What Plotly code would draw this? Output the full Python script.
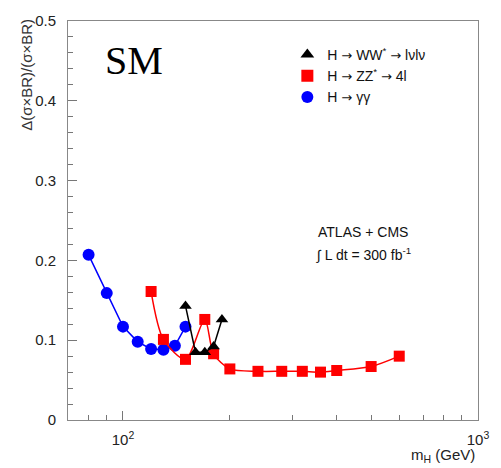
import plotly.graph_objects as go

# Higgs mass points (GeV) and relative uncertainty on sigma x BR per channel
mh_ww = [150, 160, 170, 180, 190]
err_ww = [0.143, 0.085, 0.085, 0.092, 0.126]

mh_zz = [120, 130, 150, 170, 180, 200, 240, 280, 320, 360, 400, 500, 600]
err_zz = [0.161, 0.101, 0.076, 0.126, 0.083, 0.064, 0.061, 0.061, 0.061, 0.060, 0.062, 0.067, 0.080]

mh_gg = [80, 90, 100, 110, 120, 130, 140, 150]
err_gg = [0.207, 0.159, 0.117, 0.098, 0.089, 0.088, 0.093, 0.117]

ARROW = "<span style='font-family:DejaVu Sans;font-size:13px'>\u2192</span>"
labels = [
    f"H {ARROW} WW<sup>*</sup> {ARROW} l\u03bdl\u03bd",
    f"H {ARROW} ZZ<sup>*</sup> {ARROW} 4l",
    f"H {ARROW} \u03b3\u03b3",
]

FONT = "Liberation Sans, Arial, Helvetica, sans-serif"

fig = go.Figure()

# data curves
fig.add_trace(go.Scatter(x=mh_gg, y=err_gg, mode="lines+markers", showlegend=False,
                         line=dict(color="#0000ff", width=1.5),
                         marker=dict(symbol="circle", size=12, color="#0000ff")))
fig.add_trace(go.Scatter(x=mh_zz, y=err_zz, mode="lines+markers", showlegend=False,
                         line=dict(color="#ff0000", width=1.5, shape="spline", smoothing=0.8),
                         marker=dict(symbol="square", size=11, color="#ff0000")))
fig.add_trace(go.Scatter(x=mh_ww, y=err_ww, mode="lines+markers", showlegend=False,
                         line=dict(color="#000000", width=1.5),
                         marker=dict(symbol="triangle-up", size=11, color="#000000")))

# marker-only legend entries
for name, sym, col in [(labels[0], "triangle-up", "#000000"),
                       (labels[1], "square", "#ff0000"),
                       (labels[2], "circle", "#0000ff")]:
    fig.add_trace(go.Scatter(x=[None], y=[None], mode="markers", name=name,
                             marker=dict(symbol=sym, size=12, color=col)))

minor_x = [70, 80, 90, 200, 300, 400, 500, 600, 700, 800, 900]

fig.update_layout(
    width=501, height=468,
    margin=dict(l=68, r=15, t=17, b=48),
    paper_bgcolor="white", plot_bgcolor="white",
    font=dict(family=FONT, size=14, color="#222"),
    legend=dict(x=0.535, y=0.955, xanchor="left", yanchor="top",
                bgcolor="rgba(0,0,0,0)", font=dict(size=14, color="#111"),
                itemwidth=30, tracegroupgap=0),
    xaxis=dict(type="log", range=[1.8451, 3.0],
               tickvals=[100, 1000], ticktext=["10<sup>2</sup>", "10<sup>3</sup>"],
               ticks="inside", ticklen=9, tickcolor="#777", tickwidth=1,
               minor=dict(tickvals=minor_x, ticks="inside", ticklen=5, tickcolor="#777"),
               showgrid=False, zeroline=False,
               showline=True, linecolor="#888", linewidth=1, mirror=True,
               tickfont=dict(size=15, color="#222"), ticklabelstandoff=6),
    yaxis=dict(range=[0, 0.5], tickvals=[0, 0.1, 0.2, 0.3, 0.4, 0.5],
               ticktext=["0", "0.1", "0.2", "0.3", "0.4", "0.5"],
               ticks="inside", ticklen=9, tickcolor="#777", tickwidth=1,
               minor=dict(dtick=0.02, ticks="inside", ticklen=5, tickcolor="#777"),
               showgrid=False, zeroline=False,
               showline=True, linecolor="#888", linewidth=1, mirror=True,
               tickfont=dict(size=15, color="#222"), ticklabelstandoff=8),
    annotations=[
        dict(text="SM", xref="paper", yref="paper", x=0.16, y=0.9,
             xanchor="center", yanchor="middle", showarrow=False,
             font=dict(family="Liberation Serif, Times New Roman, serif", size=40, color="#000")),
        dict(text="ATLAS + CMS", xref="paper", yref="paper", x=0.605, y=0.47,
             xanchor="left", yanchor="middle", showarrow=False,
             font=dict(size=14, color="#111")),
        dict(text="\u222b L dt = 300 fb<sup>-1</sup>", xref="paper", yref="paper", x=0.6, y=0.415,
             xanchor="left", yanchor="middle", showarrow=False,
             font=dict(size=14, color="#111")),
        dict(text="\u0394(\u03c3\u00d7BR)/(\u03c3\u00d7BR)", xref="paper", yref="paper",
             x=-0.103, y=1.01, xanchor="center", yanchor="top", textangle=-90,
             showarrow=False, font=dict(size=15, color="#333")),
        dict(text="m<sub>H</sub> (GeV)", xref="paper", yref="paper",
             x=0.998, y=-0.06, xanchor="right", yanchor="top",
             showarrow=False, font=dict(size=15, color="#222")),
    ],
)

fig.write_html("out.html")
